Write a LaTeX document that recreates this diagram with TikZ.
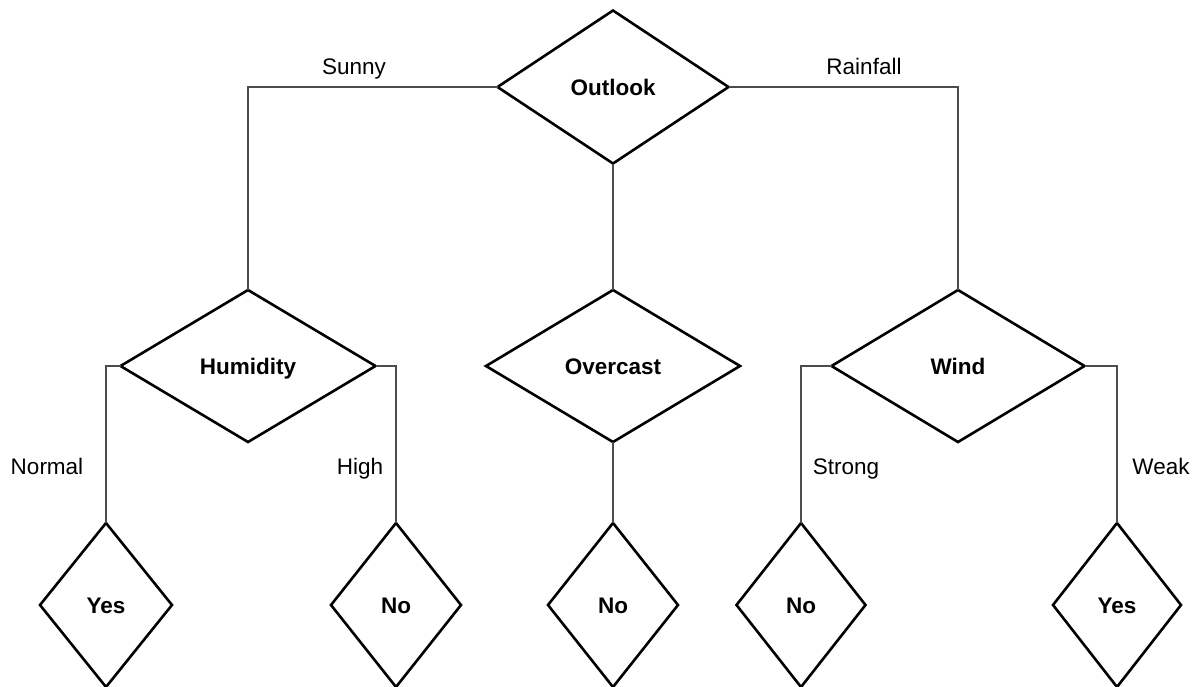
\documentclass[tikz,border=0pt]{standalone}
\usepackage{fontspec}
\setmainfont{Liberation Sans}
\usetikzlibrary{shapes.geometric}
\begin{document}
\begin{tikzpicture}[x=1pt,y=-1pt,
  decision/.style={diamond, draw=black, line width=2.6pt, inner sep=0pt, outer sep=0pt,
    font=\fontsize{22.5}{26}\selectfont\bfseries, text height=16pt, text depth=0pt,
    minimum width=#1},
  decision/.default=254pt,
  branch/.style={draw=black!70, line width=1.3pt},
  edgelabel/.style={font=\fontsize{22.5}{26}\selectfont, inner sep=0pt,
    text height=16pt, text depth=0pt}]
\useasboundingbox[fill=white] (0,0) rectangle (1197,686);

% decision nodes
\node[decision=231pt, minimum height=153pt] (outlook) at (613,87) {Outlook};
\node[decision=255pt, minimum height=152pt] (humidity) at (248,366) {Humidity};
\node[decision=254pt, minimum height=152pt] (overcast) at (613,366) {Overcast};
\node[decision=253pt, minimum height=152pt] (wind) at (958,366) {Wind};

% leaves
\node[decision=132pt, minimum height=164pt] (yesA) at (106,605) {Yes};
\node[decision=130pt, minimum height=164pt] (noA) at (396,605) {No};
\node[decision=130pt, minimum height=164pt] (noB) at (613,605) {No};
\node[decision=129pt, minimum height=164pt] (noC) at (801,605) {No};
\node[decision=128pt, minimum height=164pt] (yesB) at (1117,605) {Yes};

% branches
\draw[branch] (outlook.west) -| (humidity.north);
\draw[branch] (outlook.east) -| (wind.north);
\draw[branch] (outlook.south) -- (overcast.north);
\draw[branch] (humidity.west) -| (yesA.north);
\draw[branch] (humidity.east) -| (noA.north);
\draw[branch] (overcast.south) -- (noB.north);
\draw[branch] (wind.west) -| (noC.north);
\draw[branch] (wind.east) -| (yesB.north);

% branch labels
\node[edgelabel] (sunny) at (354,66) {Sunny};
\node[edgelabel] (rainfall) at (864,66) {Rainfall};
\node[edgelabel] (normal) at (47,466) {Normal};
\node[edgelabel] (high) at (360,466) {High};
\node[edgelabel] (strong) at (846,466) {Strong};
\node[edgelabel] (weak) at (1161,466) {Weak};
\end{tikzpicture}
\end{document}
